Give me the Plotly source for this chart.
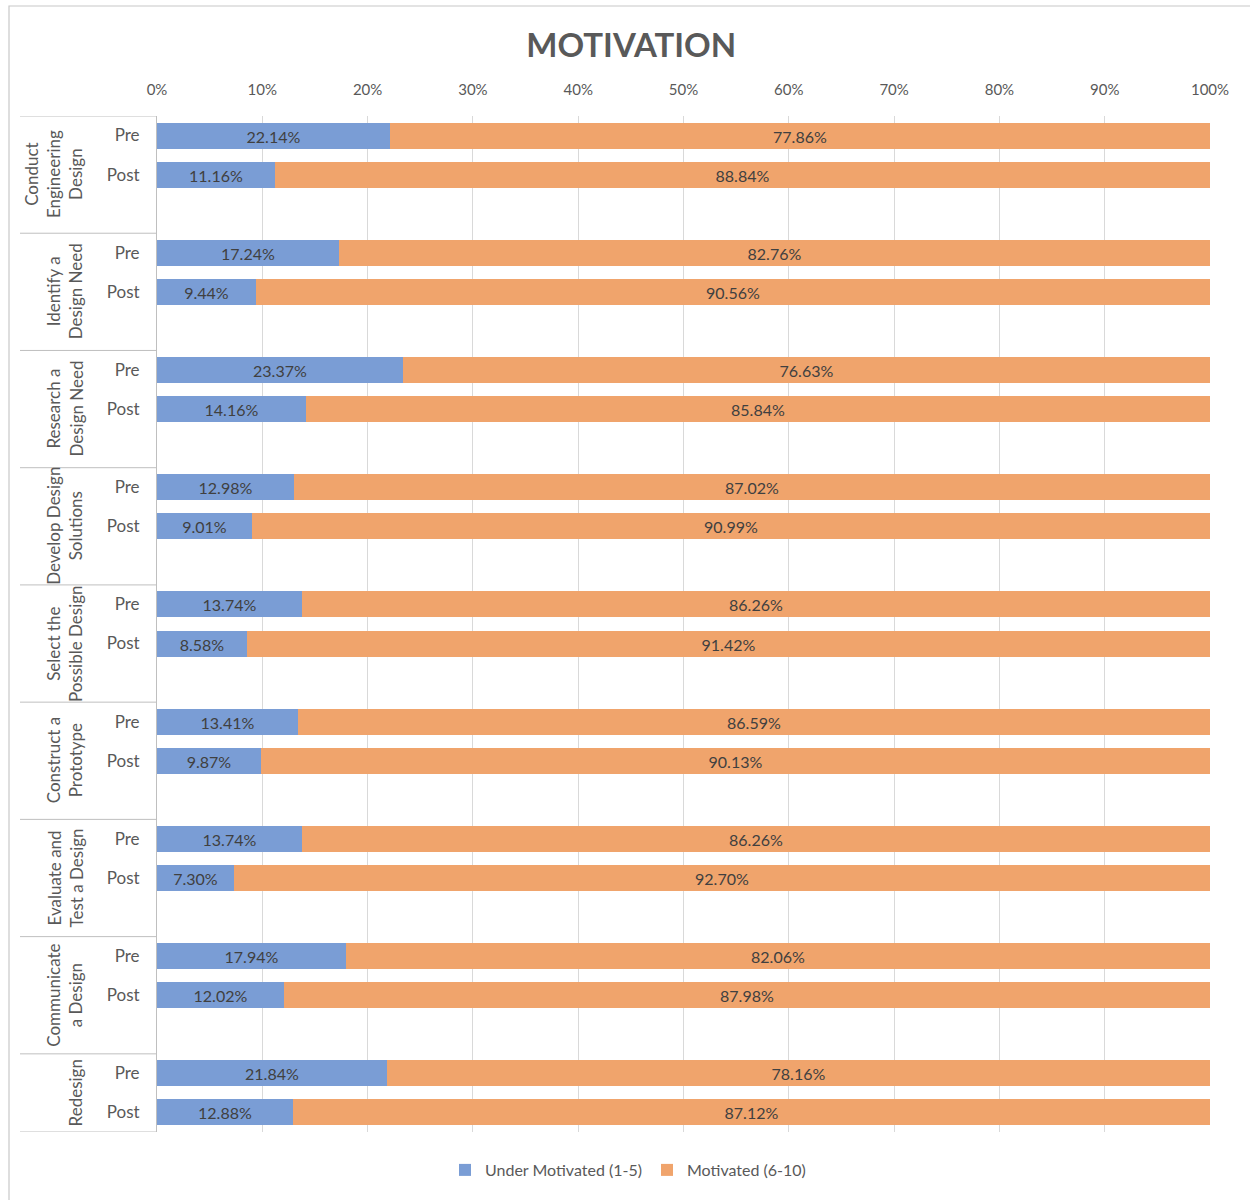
import plotly.graph_objects as go

# Survey areas (one group of bars each)
areas = [
    "Conduct<br>Engineering<br>Design",
    "Identify a<br>Design Need",
    "Research a<br>Design Need",
    "Develop Design<br>Solutions",
    "Select the<br>Possible Design",
    "Construct a<br>Prototype",
    "Evaluate and<br>Test a Design",
    "Communicate<br>a Design",
    "Redesign",
]
phases = ["Pre", "Post"]

# Share of responses (%) per area
under_pre = [22.14, 17.24, 23.37, 12.98, 13.74, 13.41, 13.74, 17.94, 21.84]
under_post = [11.16, 9.44, 14.16, 9.01, 8.58, 9.87, 7.30, 12.02, 12.88]
motiv_pre = [77.86, 82.76, 76.63, 87.02, 86.26, 86.59, 86.26, 82.06, 78.16]
motiv_post = [88.84, 90.56, 85.84, 90.99, 91.42, 90.13, 92.70, 87.98, 87.12]

x_ticks = list(range(0, 101, 10))

BLUE = "#7A9DD5"
ORANGE = "#F0A46C"
GRAY = "#595959"
LABEL = "#404040"
FONT = "Lato, Calibri, sans-serif"

# Each area takes three slots: Pre, Post and a spacer
n = len(areas)
y_pos, y_text, under, motiv = [], [], [], []
for g in range(n):
    y_pos += [3 * g, 3 * g + 1]
    y_text += phases
    under += [under_pre[g], under_post[g]]
    motiv += [motiv_pre[g], motiv_post[g]]
y_max = 3 * (n - 1) + 1.5

fig = go.Figure()
for name, vals, color in [("Under Motivated (1-5)", under, BLUE),
                          ("Motivated (6-10)", motiv, ORANGE)]:
    fig.add_trace(go.Bar(
        x=vals, y=y_pos, orientation="h", name=name,
        marker=dict(color=color, line=dict(width=0)),
        width=0.665,
        text=[f"{v:.2f}%" for v in vals],
        textposition="inside", insidetextanchor="middle",
        textfont=dict(color=LABEL, size=16, family=FONT),
        constraintext="none",
        hoverinfo="x+name",
    ))

# Layout geometry in pixels
W, H = 1250, 1200
ML, MR, MT, MB = 157, 40, 116, 68
pw, ph = W - ML - MR, H - MT - MB

def px_x(p):
    return (p - ML) / pw

def px_y(p):
    return (H - MB - p) / ph

shapes = []
# horizontal separators of the category column
for g in range(n):
    yb = 3 * g - 0.5
    shapes.append(dict(type="line", xref="paper", yref="y", x0=px_x(20), x1=0,
                       y0=yb, y1=yb, line=dict(color="#BFBFBF", width=1)))
shapes.append(dict(type="line", xref="paper", yref="y", x0=px_x(20), x1=0,
                   y0=y_max, y1=y_max, line=dict(color="#BFBFBF", width=1)))
# chart frame
shapes.append(dict(type="rect", xref="paper", yref="paper",
                   x0=px_x(9), x1=px_x(1262), y0=px_y(1215), y1=px_y(6),
                   line=dict(color="#C8C8C8", width=1.2), fillcolor="rgba(0,0,0,0)"))

annotations = []
for g, area in enumerate(areas):
    yc = (3 * g - 0.5 + min(3 * g + 2.5, y_max)) / 2
    annotations.append(dict(
        text=area, xref="paper", yref="y", x=px_x(88), y=yc,
        xanchor="right", yanchor="middle", textangle=-90, showarrow=False,
        font=dict(size=17, color=GRAY, family=FONT), align="center",
    ))

fig.update_layout(
    width=W, height=H,
    margin=dict(l=ML, r=MR, t=MT, b=MB),
    paper_bgcolor="white", plot_bgcolor="white",
    barmode="stack", bargap=0,
    font=dict(family=FONT, color=GRAY),
    title=dict(text="<b>MOTIVATION</b>", x=0.505, xref="container", xanchor="center",
               y=1 - 45 / H, yref="container", yanchor="middle",
               font=dict(size=33, color=GRAY, family=FONT)),
    xaxis=dict(range=[0, 100], side="top", tickvals=x_ticks,
               ticktext=[f"{t}%" for t in x_ticks],
               showgrid=True, gridcolor="#D9D9D9", gridwidth=1,
               zeroline=False, showline=False, ticks="",
               ticklabelstandoff=17,
               tickfont=dict(size=15, color=GRAY, family=FONT), fixedrange=True),
    yaxis=dict(range=[y_max, -0.5], tickvals=y_pos, ticktext=y_text,
               showgrid=False, zeroline=False, showline=True,
               linecolor="#BFBFBF", linewidth=1, ticks="",
               ticklabelstandoff=13,
               tickfont=dict(size=17, color=GRAY, family=FONT), fixedrange=True),
    legend=dict(orientation="h", x=px_x(628), xanchor="center",
                y=px_y(1170), yanchor="middle",
                font=dict(size=16, color=GRAY, family=FONT),
                itemwidth=30, traceorder="normal"),
    shapes=shapes, annotations=annotations,
)

fig.write_html("out.html")
